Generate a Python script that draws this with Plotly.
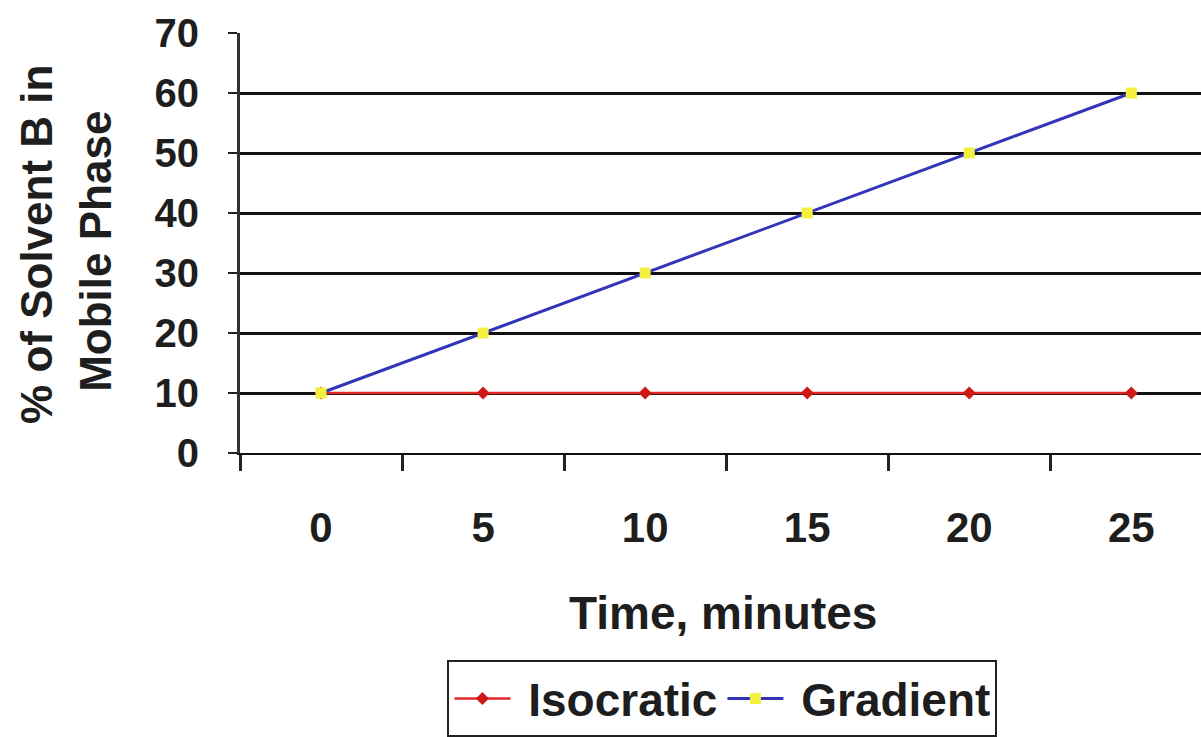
import plotly.graph_objects as go

# Solvent programme over time
time_min = ["0", "5", "10", "15", "20", "25"]
isocratic = [10, 10, 10, 10, 10, 10]
gradient = [10, 20, 30, 40, 50, 60]
y_ticks = [0, 10, 20, 30, 40, 50, 60, 70]

FONT = "Liberation Sans, Arial, sans-serif"
INK = "#1e1e1e"
LEAD = "\u00a0"  # small gap between legend symbol and label

fig = go.Figure()

fig.add_trace(go.Scatter(
    x=time_min, y=isocratic, name=LEAD + "Isocratic",
    mode="lines+markers",
    line=dict(color="#e02828", width=2.5),
    marker=dict(symbol="diamond", size=10, color="#d01818"),
))
fig.add_trace(go.Scatter(
    x=time_min, y=gradient, name=LEAD + "Gradient",
    mode="lines+markers",
    line=dict(color="#3434b8", width=3),
    marker=dict(symbol="square", size=11, color="#f4f040"),
))

fig.update_layout(
    width=1201, height=737,
    margin=dict(l=240, r=0, t=33, b=276),
    paper_bgcolor="white", plot_bgcolor="white",
    font=dict(family=FONT, color=INK),
    showlegend=True,
    legend=dict(
        orientation="h",
        x=0.502, xanchor="center", xref="paper",
        y=-0.493, yanchor="top", yref="paper",
        bgcolor="white", bordercolor="#222", borderwidth=2,
        font=dict(family=FONT, size=46, color=INK, weight="bold"),
        itemwidth=56,
    ),
    xaxis=dict(
        type="category",
        range=[-0.5, 5.43],
        tickson="boundaries",
        ticks="outside", ticklen=16, tickwidth=3, tickcolor="#222",
        showline=True, linecolor="#111", linewidth=2,
        showgrid=False,
        tickfont=dict(family=FONT, size=42, color=INK, weight="bold"),
        ticklabelstandoff=37,
        fixedrange=True,
    ),
    yaxis=dict(
        range=[0, 70],
        tickvals=y_ticks,
        ticks="outside", ticklen=9, tickwidth=2, tickcolor="#222",
        showline=True, linecolor="#333", linewidth=3,
        showgrid=True, gridcolor="#111", gridwidth=2.5,
        zeroline=False,
        tickfont=dict(family=FONT, size=40, color=INK, weight="bold"),
        ticklabelstandoff=21,
    ),
    annotations=[
        dict(text="Time, minutes", xref="paper", yref="paper",
             x=0.503, y=-0.38, xanchor="center", yanchor="middle",
             showarrow=False,
             font=dict(family=FONT, size=46, color=INK, weight="bold")),
        dict(text="% of Solvent B in", xref="paper", yref="paper",
             x=-0.212, y=0.496, xanchor="center", yanchor="middle",
             textangle=-90, showarrow=False,
             font=dict(family=FONT, size=44, color=INK, weight="bold")),
        dict(text="Mobile Phase", xref="paper", yref="paper",
             x=-0.150, y=0.481, xanchor="center", yanchor="middle",
             textangle=-90, showarrow=False,
             font=dict(family=FONT, size=44, color=INK, weight="bold")),
    ],
)

fig.write_html("out.html")
